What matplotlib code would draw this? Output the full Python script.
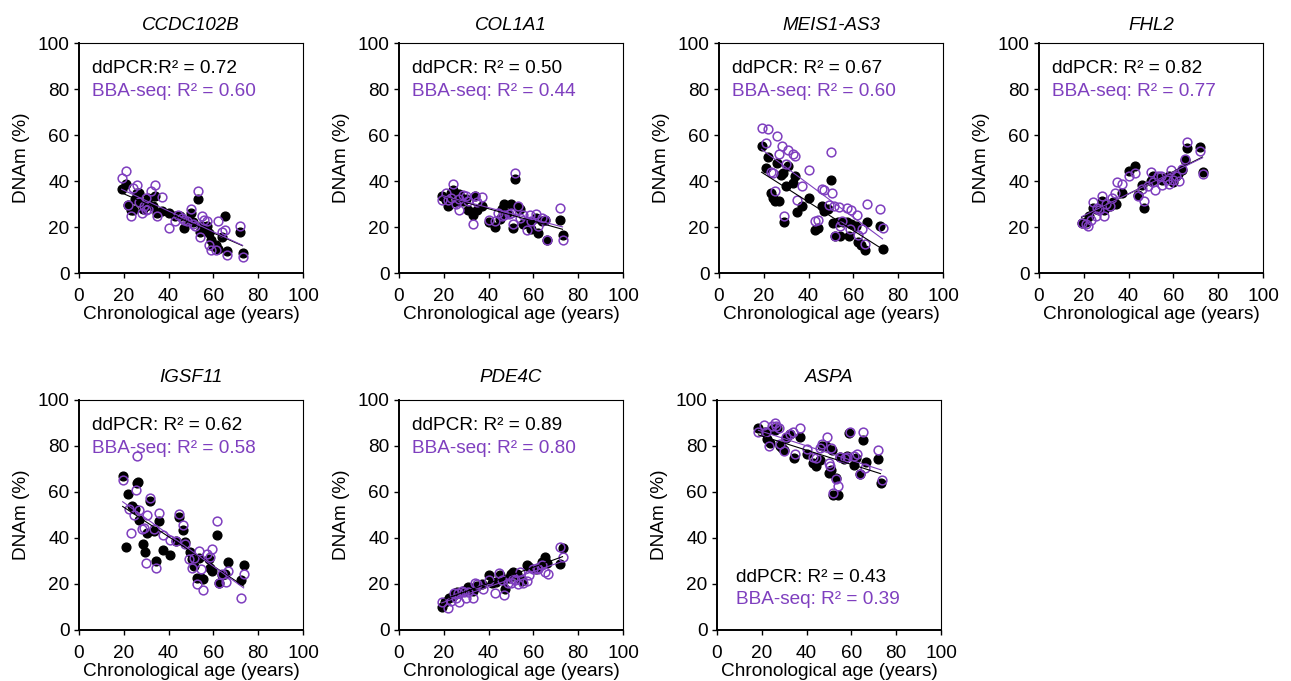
import numpy as np
import matplotlib
matplotlib.use("Agg")
import matplotlib.pyplot as plt

plt.rcParams['font.family'] = ['Liberation Sans', 'DejaVu Sans']

PURPLE = '#7F3FBF'

genes = ["CCDC102B", "COL1A1", "MEIS1-AS3", "FHL2", "IGSF11", "PDE4C", "ASPA"]
r2_ddpcr = ["0.72", "0.50", "0.67", "0.82", "0.62", "0.89", "0.43"]
r2_bba = ["0.60", "0.44", "0.60", "0.77", "0.58", "0.80", "0.39"]
ddpcr_prefix = ["ddPCR:", "ddPCR: ", "ddPCR: ", "ddPCR: ", "ddPCR: ", "ddPCR: ", "ddPCR: "]

# ---- CCDC102B ----
ccdc_age_dd = [19, 21, 22, 23, 24, 25, 26, 27, 27, 28.5, 30, 31, 33, 34, 35, 37, 40, 43, 45, 47, 49, 50, 51, 53, 54, 55, 57, 58, 59, 60, 61, 62, 64, 65, 66, 72, 73]
ccdc_dd = [36.7, 38.7, 29.4, 27.2, 27.2, 32.2, 35, 34.8, 31, 28, 29, 32.6, 29, 33.6, 26, 26.8, 26, 25, 24.6, 19.6, 23.2, 26, 22, 32, 18, 20.3, 20.3, 17.4, 14.5, 11.6, 12.3, 10.4, 15.6, 24.6, 9.4, 18, 8.7]
ccdc_age_bba = [19, 21, 22, 23, 24, 26, 27, 28, 29, 30, 30, 31, 32, 34, 35, 37, 40, 43, 44, 46, 47, 48, 50, 51, 52, 53, 54, 55, 56, 57, 58, 59, 61, 62, 64, 65, 66, 72, 73]
ccdc_bba = [41.3, 44.5, 29.7, 24.6, 37, 38.4, 31, 26, 29, 32.6, 27.2, 28, 35.5, 38.4, 25, 33, 19.6, 22.5, 25.4, 24, 23.2, 22.5, 27.8, 21.4, 20.3, 35.8, 15.5, 25, 22.9, 22.5, 12.3, 10.1, 10.1, 22.5, 18, 18.5, 8, 20.3, 7]

# ---- COL1A1 ----
col_age_dd = [19, 21, 22, 23, 24, 25.5, 27, 27.5, 28.5, 30, 31, 33, 34, 35, 37, 40, 43, 45, 46, 47, 48, 50, 51, 52, 53, 54, 55.5, 57, 58, 59, 61, 62, 64, 65, 66, 72, 73]
col_dd = [33.3, 31.9, 29.3, 34.8, 36.2, 30.7, 34.5, 32.6, 31.2, 32.2, 27.5, 25.4, 33.3, 27.2, 29.3, 22, 20, 23.5, 27.8, 30.1, 26, 30.1, 19.6, 41, 28.7, 27.8, 21.4, 22, 21.4, 19.1, 23.9, 17.4, 22.5, 22.9, 14.5, 23.2, 16.7]
col_age_bba = [19, 21, 22, 23, 24, 25.5, 27, 27, 28.5, 30, 31, 33, 34, 35, 37, 40, 43, 44, 46, 47, 49, 50, 51, 52, 53, 54, 55.5, 57, 58.5, 59, 61, 62, 64, 65, 66, 72, 73]
col_bba = [31.9, 35, 31.9, 32.6, 38.8, 30.1, 32.2, 27.5, 34, 33.6, 31.2, 21.4, 33.6, 30.7, 33, 23.2, 22.5, 26, 24.6, 25.4, 25.8, 26, 21.4, 43.5, 29, 23.9, 25.4, 18.8, 25.4, 22.5, 25.8, 20.6, 23.9, 22.9, 14.5, 28.3, 14.2]

# ---- MEIS1-AS3 ----
meis_age_dd = [19, 21, 22, 23, 24, 25, 26, 27, 27.5, 28.5, 29, 30, 31, 33, 34, 35, 37, 40, 43, 44, 46, 47, 48.5, 50, 51, 52, 53, 54, 55.5, 57, 58, 59, 61, 62, 63.5, 65, 66, 72, 73]
meis_dd = [55.4, 45.7, 50.4, 34.8, 32.6, 31.2, 47.8, 31.2, 42.8, 43.5, 22, 37.7, 46.4, 39.1, 42.3, 26.4, 29.3, 32.6, 18.8, 19.6, 29, 26.8, 27.8, 40.6, 21.7, 15.9, 22, 15.9, 22, 22, 15.9, 21.4, 20.3, 13.3, 12.3, 10.1, 22, 20.3, 10.4]
meis_age_bba = [19, 22, 21, 23, 24, 25, 26, 27, 28, 29, 30, 31, 33, 34, 35, 37, 40, 43, 44, 46, 47, 49, 50, 50.5, 51.5, 52, 53.5, 54, 55, 57, 58.5, 59, 61.5, 62, 64, 65, 66, 72, 73]
meis_bba = [63, 62.6, 56.5, 43.8, 43.5, 35.5, 59.7, 51.9, 55.4, 25, 47.5, 53.6, 51.9, 50.7, 31.6, 38, 45, 22.5, 23.2, 36.5, 36, 29.7, 52.5, 35, 29, 16.2, 28.7, 20.3, 22.5, 28.3, 19.1, 27.5, 25.4, 16.7, 19.1, 12.8, 30.1, 27.8, 19.4]

# ---- FHL2 ----
fhl_age_dd = [19, 21, 22.5, 24, 25.5, 27, 28, 29, 30, 31.5, 33, 34.5, 37, 40, 43, 44, 46, 47, 50, 51, 52, 54, 55, 56, 58, 59, 60, 61, 62, 64, 65, 66, 72, 73]
fhl_dd = [21.7, 22, 24.6, 28.3, 27.8, 27.5, 31.2, 27.5, 28.7, 29.3, 30.7, 30.1, 35, 44.2, 46.7, 34, 38.4, 28.3, 39.9, 42.3, 40.9, 41.3, 40.6, 41.3, 42.3, 40.3, 39.4, 42, 43.2, 44.9, 49.3, 54.3, 55, 43.8]
fhl_age_bba = [19, 21, 22, 23, 24, 25.5, 26, 27, 28, 29, 30, 31.5, 32.5, 34, 35, 37, 40, 43, 44, 46, 47, 48.5, 50, 51, 52, 53, 54.5, 55, 57, 58, 59, 60, 61, 62.5, 64, 65, 66, 72, 73]
fhl_bba = [21.7, 21.4, 20.6, 23.2, 30.7, 24.9, 28.3, 27.5, 33.6, 24.6, 30.1, 29, 32.6, 34.8, 39.4, 38.8, 42, 43.5, 33.3, 36.5, 31.2, 37.7, 43.8, 39.4, 36, 42.3, 42, 38.4, 40.6, 38.8, 44.9, 40.6, 42, 39.9, 45.2, 49.6, 56.8, 52.9, 43.2]

# ---- IGSF11 ----
igsf_age_dd = [19.5, 22, 23.5, 21, 25, 26, 26.5, 27, 28.5, 29.5, 30.5, 31.5, 33.5, 34.5, 35.5, 37.5, 40.5, 43.5, 44.5, 46.5, 47.5, 49.5, 50.5, 51.5, 52.5, 53.5, 54.5, 55.5, 58, 58.5, 59.5, 61.5, 62.5, 64, 65, 66.5, 72.5, 73.5]
igsf_dd = [67.1, 59.3, 54.1, 36.2, 52.7, 63.9, 64.2, 47.8, 37.5, 33.9, 42.3, 56, 43, 30, 47.3, 35, 32.5, 38.7, 49.2, 43.4, 38.2, 33.9, 31, 27.8, 22.8, 31.5, 22.8, 22, 31, 27.1, 25.7, 41.1, 20.6, 23.8, 24.2, 29.6, 21.8, 28.1]
igsf_age_bba = [19.5, 22.5, 23, 24.5, 25.5, 26, 27, 28, 29, 30, 30.5, 31.5, 33.5, 34.5, 35.5, 37.5, 40.5, 43.5, 44.5, 46.5, 47.5, 49, 50.5, 51.5, 52.5, 53.5, 54.5, 55.5, 57, 58.5, 59.5, 61.5, 62.5, 64, 65.5, 66.5, 72.5, 73.5]
igsf_bba = [65.4, 52.4, 42.3, 49.8, 61, 75.8, 52.1, 44, 44.4, 29.3, 49.8, 57.4, 44, 27.1, 50.9, 41.1, 39, 38.7, 50.5, 45.5, 37.2, 30.7, 27.1, 31.5, 19.9, 34.3, 26.4, 17.5, 32.9, 31.9, 35.1, 47.2, 20.6, 24.2, 20.9, 25.7, 14.1, 24.2]

# ---- PDE4C ----
pde_age_dd = [19, 20.5, 22.5, 24, 25, 26, 27, 28.5, 30, 31, 33, 34, 35, 37, 40, 41.5, 43.5, 45, 46.5, 47.5, 49, 50, 51, 52.5, 54, 55, 57, 58, 61, 62, 64, 65, 66, 72, 73]
pde_dd = [10.2, 12.3, 14.1, 14.6, 16.3, 16.6, 16.3, 17, 17.5, 18.5, 17, 18.9, 19.2, 19.9, 23.8, 20.6, 20.9, 23.8, 21.8, 18, 22.8, 24.2, 25.3, 24.2, 22.1, 21.4, 28.1, 27.4, 26.7, 27.1, 29.6, 31.9, 29.3, 28.6, 35.8]
pde_age_bba = [19, 22, 23, 24.5, 25.5, 26.5, 27, 28, 29, 30, 31, 33, 34, 35, 37.5, 40, 43, 44.5, 46, 47, 48.5, 50, 51, 52, 53, 54, 55.5, 57, 58, 60, 61.5, 62, 64, 65, 66.5, 72, 73]
pde_bba = [12, 9.4, 12.7, 16.3, 13.7, 16.3, 12.3, 17, 16.6, 14.1, 16.6, 14.1, 20.3, 19.9, 18, 21.8, 16, 25, 21.8, 15.2, 20.6, 20.6, 22.1, 21.8, 19.9, 25.3, 20.6, 21.4, 23.8, 26.4, 27.1, 26.7, 28.1, 25.3, 24.2, 36.2, 31.9]

# ---- ASPA ----
aspa_age_dd = [18.5, 21.5, 22.5, 23.5, 25, 26, 27, 28, 29, 30, 31, 32.5, 34.5, 37, 40, 43, 44, 46, 47, 48.5, 50, 51, 51.5, 52, 53, 54, 55, 56.5, 58, 59, 61, 62, 64, 65, 66.5, 72, 73]
aspa_dd = [87.7, 85.9, 83, 81.5, 87.2, 87, 87.7, 80, 79.1, 78.4, 83.4, 85.3, 74.7, 83.8, 76.6, 72.6, 71.1, 74, 79.8, 79.8, 68.3, 69.7, 78.4, 58.9, 66.1, 58.9, 75.2, 74.2, 75.6, 85.6, 71.9, 74.7, 68, 82.4, 72.9, 74.3, 63.9]
aspa_age_bba = [18.5, 21, 22, 23, 24.5, 26, 26.5, 27.5, 28, 30, 31, 32.5, 34, 35, 37, 40, 43, 44, 46, 47, 49, 50, 50.5, 51, 52, 53, 54, 55, 57, 58, 59.5, 61, 62.5, 64, 65, 66, 72, 73.5]
aspa_bba = [85.9, 89.2, 86.3, 79.8, 88.9, 90, 88.9, 87.9, 80.7, 77.8, 83.8, 85.3, 85.9, 76.6, 87.7, 78.7, 75.2, 74.7, 79.1, 80.7, 83.8, 72.6, 71.1, 79.1, 59.6, 65.7, 62.5, 75.2, 74.7, 75.2, 85.9, 75.8, 76.6, 68, 85.9, 70.4, 78.4, 65.4]

ages_dd = [ccdc_age_dd, col_age_dd, meis_age_dd, fhl_age_dd, igsf_age_dd, pde_age_dd, aspa_age_dd]
vals_dd = [ccdc_dd, col_dd, meis_dd, fhl_dd, igsf_dd, pde_dd, aspa_dd]
ages_bba = [ccdc_age_bba, col_age_bba, meis_age_bba, fhl_age_bba, igsf_age_bba, pde_age_bba, aspa_age_bba]
vals_bba = [ccdc_bba, col_bba, meis_bba, fhl_bba, igsf_bba, pde_bba, aspa_bba]

W, H = 1291, 681
fig = plt.figure(figsize=(W / 100, H / 100), dpi=100)

lefts_px = [79, 399, 719, 1039, 79, 399, 717]
tops_px = [43, 43, 43, 43, 400, 400, 400]
title_pads = [9.7, 9.7, 9.7, 9.7, 13.3, 13.3, 13.3]
aw, ah = 224, 230

FS = 13.7
for i, g in enumerate(genes):
    l = lefts_px[i] / W
    b = 1 - (tops_px[i] + ah) / H
    ax = fig.add_axes([l, b, aw / W, ah / H])
    ax.set_xlim(0, 100)
    ax.set_ylim(0, 100)
    ax.set_xticks(range(0, 101, 20))
    ax.set_yticks(range(0, 101, 20))
    ax.tick_params(direction='out', length=3.7, width=1.0, labelsize=FS)
    ax.tick_params(axis='x', pad=7.0)
    ax.tick_params(axis='y', pad=3.2)
    for s in ['left', 'bottom']:
        ax.spines[s].set_linewidth(1.4)
    for s in ['top', 'right']:
        ax.spines[s].set_linewidth(0.8)
    ax.set_title(g, fontstyle='italic', fontsize=13.5, pad=title_pads[i])
    ax.set_xlabel('Chronological age (years)', fontsize=FS, labelpad=0.5)
    ax.set_ylabel('DNAm (%)', fontsize=FS, labelpad=5.5)

    xd = np.array(ages_dd[i], dtype=float)
    yd = np.array(vals_dd[i], dtype=float)
    xb = np.array(ages_bba[i], dtype=float)
    yb = np.array(vals_bba[i], dtype=float)

    ax.plot(xd, yd, 'o', color='black', ms=6.3, mec='black', zorder=3)
    ax.plot(xb, yb, 'o', mfc='none', mec=PURPLE, ms=6.3, mew=1.1, zorder=4)

    for x, y, c in [(xd, yd, 'black'), (xb, yb, PURPLE)]:
        k, c0 = np.polyfit(x, y, 1)
        xx = np.array([x.min(), x.max()])
        ax.plot(xx, k * xx + c0, '-', color=c, lw=0.8, zorder=5)

    if g == "ASPA":
        y1, y2, tx = 23.0, 13.3, 8.5
    else:
        y1, y2, tx = 88.7, 78.8, 6.0
    ax.text(tx, y1, f"{ddpcr_prefix[i]}R\u00b2 = {r2_ddpcr[i]}", fontsize=FS,
            color='black', va='center', ha='left')
    ax.text(tx, y2, f"BBA-seq: R\u00b2 = {r2_bba[i]}", fontsize=FS,
            color=PURPLE, va='center', ha='left')

fig.savefig('out.png', dpi=100)
